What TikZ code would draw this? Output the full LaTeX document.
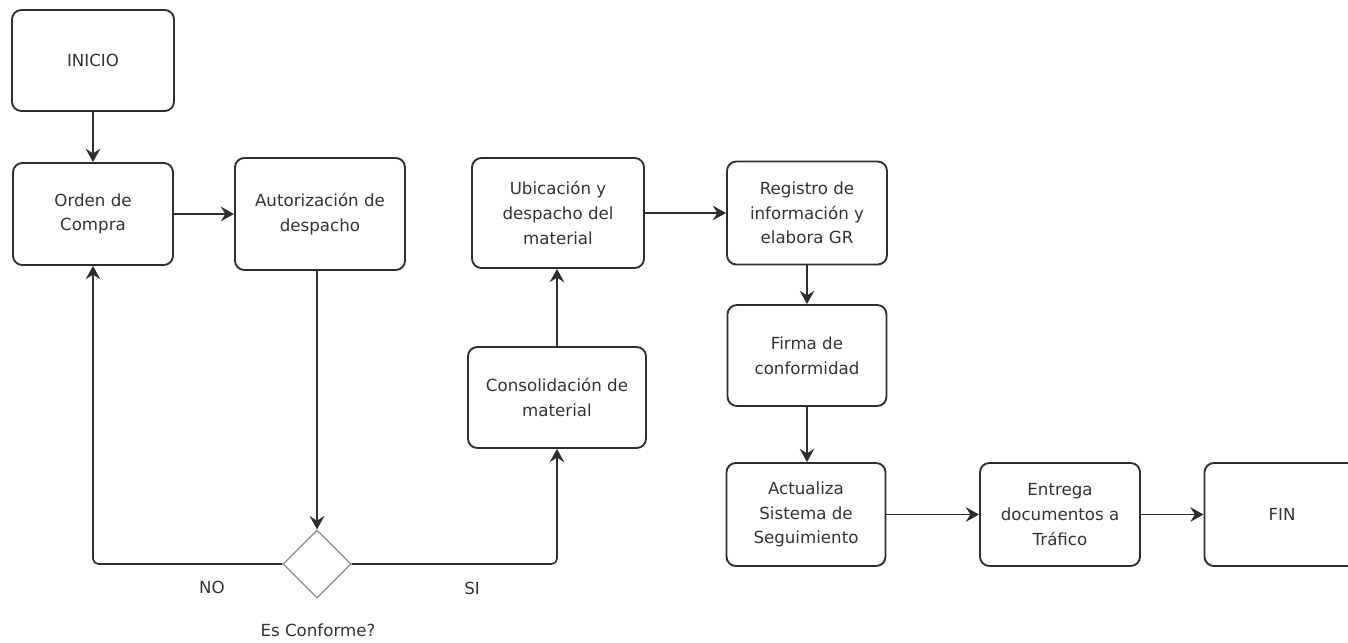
\documentclass[tikz,border=0pt]{standalone}
\usepackage{fontspec}
\setmainfont{DejaVu Sans}
\usetikzlibrary{arrows.meta,shapes.geometric}
\definecolor{lineclr}{HTML}{2E2E2E}
\tikzset{
  box/.style={draw=lineclr, line width=1.4pt, rounded corners=7pt, fill=white,
    align=center, inner sep=0pt, font=\fontsize{12.5}{18.5}\selectfont, text=black!80},
  conn/.style={draw=lineclr, line width=1.2pt, -{Stealth[length=10pt,width=11pt,inset=3.5pt]}},
  lbl/.style={font=\fontsize{12.5}{15}\selectfont, text=black!80, inner sep=0pt},
  decision/.style={diamond, draw=black!45, line width=0.9pt, inner sep=0pt, aspect=1}
}
\begin{document}
\begin{tikzpicture}[x=0.75pt,y=-0.75pt]
\useasboundingbox (0,0) rectangle (1348,642);
\clip (0,0) rectangle (1348,642);
\node[box, minimum width=162*0.75pt, minimum height=101*0.75pt] (inicio) at (93,60.5) {INICIO};
\node[box, minimum width=160*0.75pt, minimum height=102*0.75pt] (orden) at (93,214) {Orden de\\Compra};
\node[box, minimum width=170*0.75pt, minimum height=112*0.75pt] (autor) at (320,214) {Autorización de\\despacho};
\node[box, minimum width=172*0.75pt, minimum height=110*0.75pt] (ubic) at (558,213) {Ubicación y\\despacho del\\material};
\node[box, minimum width=160*0.75pt, minimum height=103*0.75pt] (reg) at (807,213) {Registro de\\información y\\elabora GR};
\node[box, minimum width=159*0.75pt, minimum height=101*0.75pt] (firma) at (807,355.5) {Firma de\\conformidad};
\node[box, minimum width=178*0.75pt, minimum height=101*0.75pt] (consol) at (557,397.5) {Consolidación de\\material};
\node[box, minimum width=159*0.75pt, minimum height=103*0.75pt] (actual) at (806,514.5) {Actualiza\\Sistema de\\Seguimiento};
\node[box, minimum width=160*0.75pt, minimum height=103*0.75pt] (entrega) at (1060,514.5) {Entrega\\documentos a\\Tráfico};
\node[box, minimum width=155*0.75pt, minimum height=103*0.75pt] (fin) at (1282,514.5) {FIN};
\node[decision, minimum width=68*0.75pt, minimum height=68*0.75pt] (dia) at (317,564) {};

\draw[conn] (inicio) -- (orden);
\draw[conn] (orden) -- (autor);
\draw[conn] (autor.south -| dia.north) -- (dia.north);
\draw[conn, rounded corners=4pt] (dia.west) -| (orden.south);
\draw[conn, rounded corners=4pt] (dia.east) -| (consol.south);
\draw[conn] (consol.north) -- (consol.north |- ubic.south);
\draw[conn] (ubic) -- (reg);
\draw[conn] (reg) -- (firma);
\draw[conn] (firma.south) -- (firma.south |- actual.north);
\draw[conn] (actual) -- (entrega);
\draw[conn] (entrega) -- (fin);

\node[lbl] (no) at (212,587) {NO};
\node[lbl] (si) at (472,588) {SI};
\node[lbl] (es) at (318,630) {Es Conforme?};
\end{tikzpicture}
\end{document}
